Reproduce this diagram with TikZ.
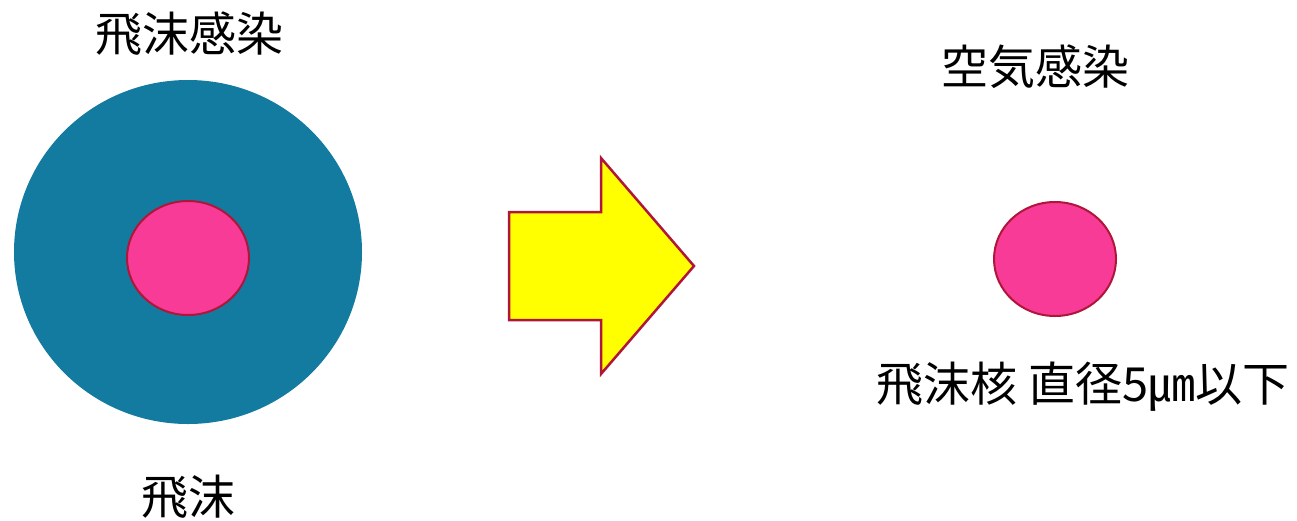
\documentclass[tikz,border=0pt]{standalone}
\usepackage{fontspec}
\newfontfamily\jpfont{Noto Sans CJK JP}
\definecolor{tealc}{HTML}{137BA0}
\definecolor{pinkc}{HTML}{F73B96}
\definecolor{edgec}{HTML}{B0163A}
\definecolor{yel}{HTML}{FFFF00}
\tikzset{
  label/.style={font=\jpfont\fontsize{47}{52}\selectfont, inner sep=0pt, anchor=center},
  nucleus/.style={ellipse, draw=edgec, fill=pinkc, line width=2pt, minimum width=122pt, minimum height=114pt, inner sep=0pt},
}
\usetikzlibrary{shapes.geometric}
\begin{document}
\begin{tikzpicture}[x=1pt,y=-1pt]
\useasboundingbox (0,0) rectangle (1297,520);
\fill[white] (0,0) rectangle (1297,520);
% droplet
\node[ellipse, fill=tealc, minimum width=348pt, minimum height=344pt, inner sep=0pt] (drop) at (188,252) {};
\node[nucleus] (core1) at (188,258) {};
% arrow
\draw[draw=edgec, fill=yel, line width=2.5pt, line join=miter]
  (509,212) -- (601,212) -- (601,158) -- (694,266) -- (601,374) -- (601,320) -- (509,320) -- cycle;
% right nucleus
\node[nucleus] (core2) at (1055,259) {};
% labels
\node[label] (t1) at (189,34) {飛沫感染};
\node[label] (t2) at (1035,67) {空気感染};
\node[label] (t3) at (188,497) {飛沫};
\node[label] (t4) at (1083,387) {飛沫核 直径5㎛以下};
\end{tikzpicture}
\end{document}
